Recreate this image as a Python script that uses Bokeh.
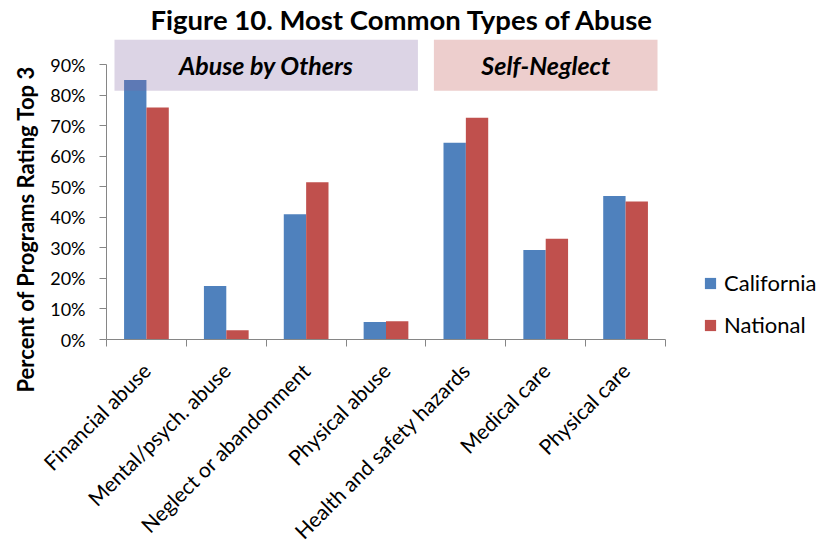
import math
from bokeh.plotting import figure
from bokeh.models import (ColumnDataSource, Range1d, FixedTicker, Title,
                          NumeralTickFormatter, Legend, LegendItem)
from bokeh.core.properties import value
from bokeh.transform import dodge
from bokeh.embed import file_html
from bokeh.resources import INLINE

# Share of programs rating each abuse type among their top 3
categories = ["Financial abuse", "Mental/psych. abuse", "Neglect or abandonment",
              "Physical abuse", "Health and safety hazards", "Medical care",
              "Physical care"]
california = [0.85, 0.175, 0.41, 0.057, 0.645, 0.293, 0.47]
national = [0.76, 0.03, 0.515, 0.06, 0.727, 0.33, 0.452]
y_ticks = [0.0, 0.1, 0.2, 0.3, 0.4, 0.5, 0.6, 0.7, 0.8, 0.9]

# Category groups shown as shaded headers
group_names = ["Abuse by Others", "Self-Neglect"]
group_first = [0, 4]
group_last = [3, 6]

FONT = "Lato"
BLUE = "#4F81BD"
RED = "#C0504D"
AXIS_GREY = "#868686"

n = len(categories)
positions = [i + 0.5 for i in range(n)]
src = ColumnDataSource(dict(pos=positions, california=california, national=national))

# The frame runs past the last category to leave room for the legend on the right;
# the x axis itself is bounded to the categories.
cat_px = 559          # pixel width of the category area
frame_w = 711
p = figure(frame_width=frame_w, frame_height=300, output_backend="svg", toolbar_location=None,
           x_range=Range1d(0, n * frame_w / cat_px), y_range=Range1d(0, 0.983),
           min_border_left=105, min_border_right=0,
           min_border_top=39, min_border_bottom=209,
           background_fill_color="white", border_fill_color="white")
p.outline_line_color = None
p.xgrid.visible = False
p.ygrid.visible = False

bar_w = 0.28
r_ca = p.vbar(x=dodge("pos", -bar_w / 2, range=p.x_range), top="california", width=bar_w,
              bottom=0, source=src, fill_color=BLUE, line_color=None)
r_na = p.vbar(x=dodge("pos", bar_w / 2, range=p.x_range), top="national", width=bar_w,
              bottom=0, source=src, fill_color=RED, line_color=None)

# Group header boxes drawn over the plot, semi-transparent
inset = 0.1
box_bottom = 0.815
box_top = 0.983
lefts = [f + inset for f in group_first]
rights = [l + 1 - inset for l in group_last]
p.quad(left=lefts, right=rights, bottom=[box_bottom] * 2, top=[box_top] * 2,
       fill_color=["#8064A2", RED], fill_alpha=0.28, line_color=None)
p.text(x=[(a + b) / 2 for a, b in zip(lefts, rights)], y=[0.9, 0.9], text=group_names,
       text_font=value(FONT), text_font_style="bold italic", text_font_size="25px",
       text_align="center", text_baseline="middle", text_color="black")

# Title
p.title.text = "Figure 10. Most Common Types of Abuse"
p.title.align = "left"
p.title.offset = 44
p.title.standoff = 4
p.title.vertical_align = "top"
p.title.text_font = FONT
p.title.text_font_style = "bold"
p.title.text_font_size = "27.5px"
p.title.text_color = "black"

# X axis: labels at category centres, tick marks at category boundaries
xa = p.xaxis[0]
xa.ticker = FixedTicker(ticks=positions, minor_ticks=list(range(n + 1)))
xa.major_label_overrides = {pos: c for pos, c in zip(positions, categories)}
xa.bounds = (0, n)
xa.major_label_orientation = math.pi / 4
xa.major_label_text_font = FONT
xa.major_label_text_font_size = "21px"
xa.major_label_text_color = "black"
xa.major_tick_out = 0
xa.major_tick_in = 0
xa.minor_tick_out = 7
xa.minor_tick_in = 0
xa.minor_tick_line_color = AXIS_GREY
xa.axis_line_color = AXIS_GREY
xa.major_label_standoff = 20

# Y axis
ya = p.yaxis[0]
ya.ticker = FixedTicker(ticks=y_ticks)
ya.formatter = NumeralTickFormatter(format="0%")
ya.bounds = (0, 0.9)
ya.major_label_text_font = FONT
ya.major_label_text_font_size = "18px"
ya.major_label_text_color = "black"
ya.major_tick_out = 7
ya.major_tick_in = 0
ya.minor_tick_line_color = None
ya.major_tick_line_color = AXIS_GREY
ya.axis_line_color = AXIS_GREY
ya.major_label_standoff = 14

# Axis title, set lower than the frame centre
p.add_layout(Title(text="Percent of Programs Rating Top 3", align="left", offset=-53,
                   text_font=FONT, text_font_style="bold", text_font_size="22px",
                   text_color="black", standoff=18), "left")

legend = Legend(items=[LegendItem(label="California", renderers=[r_ca]),
                       LegendItem(label="National", renderers=[r_na])],
                location=(597, 1), orientation="vertical",
                label_text_font=FONT, label_text_font_size="22px",
                label_text_color="black", glyph_width=14, glyph_height=14,
                label_height=22, spacing=15, padding=0, margin=0,
                label_standoff=7, border_line_color=None,
                background_fill_alpha=0)
p.add_layout(legend, "center")

open("out.html", "w").write(file_html(p, INLINE))
